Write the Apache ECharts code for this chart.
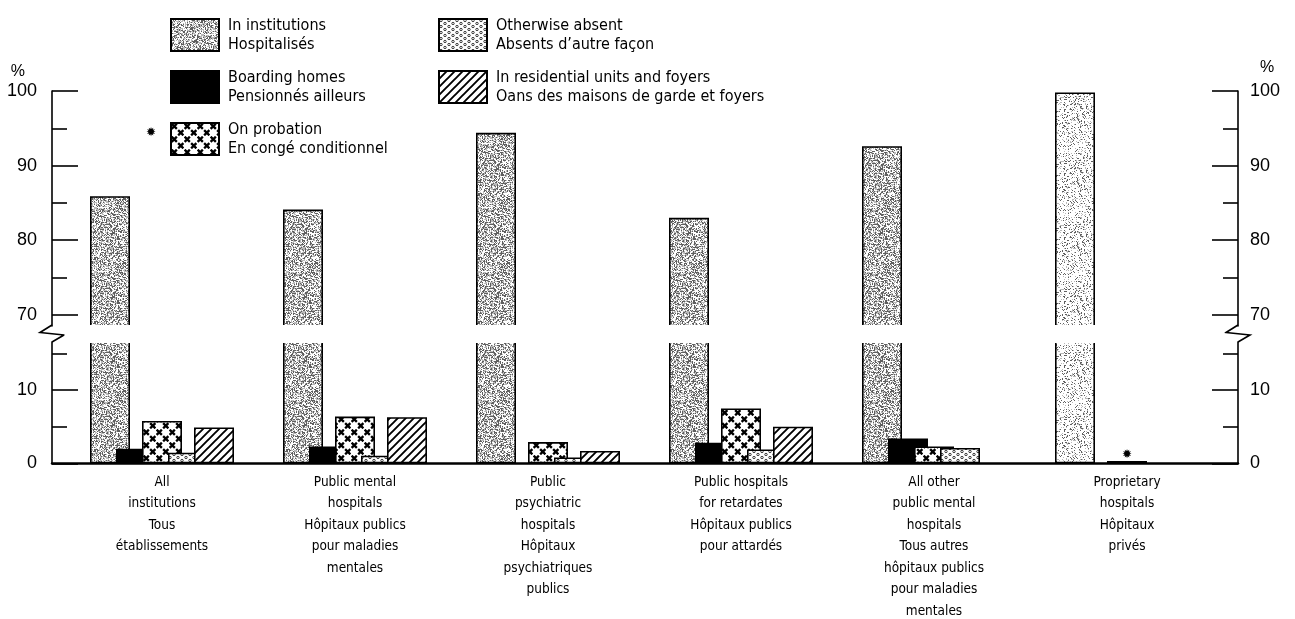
<!DOCTYPE html>
<html><head><meta charset="utf-8">
<script src="https://cdn.jsdelivr.net/npm/echarts@6/dist/echarts.min.js"></script>
<style>html,body{margin:0;padding:0;background:#fff}#c{width:1295px;height:619px}</style>
</head><body><div id="c"></div>
<script>
// ---------- data ----------
const categories = [
  'All\ninstitutions\nTous\nétablissements',
  'Public mental\nhospitals\nHôpitaux publics\npour maladies\nmentales',
  'Public\npsychiatric\nhospitals\nHôpitaux\npsychiatriques\npublics',
  'Public hospitals\nfor retardates\nHôpitaux publics\npour attardés',
  'All other\npublic mental\nhospitals\nTous autres\nhôpitaux publics\npour maladies\nmentales',
  'Proprietary\nhospitals\nHôpitaux\nprivés'
];
const seriesNamesEn = ['In institutions', 'Boarding homes', 'On probation', 'Otherwise absent', 'In residential units and foyers'];
const seriesNamesFr = ['Hospitalisés', 'Pensionnés ailleurs', 'En congé conditionnel', 'Absents d\u2019autre façon', 'Oans des maisons de garde et foyers'];
const inInstitutions   = [85.9, 84.1, 94.4, 83.0, 92.6, 99.8];
const boardingHomes    = [2.0, 2.3, 0, 2.8, 3.4, 0];
const onProbation      = [5.8, 6.4, 2.9, 7.5, 2.3, 0.3];
const otherwiseAbsent  = [1.45, 1.05, 0.8, 1.9, 2.1, 0];
const residentialUnits = [4.9, 6.3, 1.7, 5.0, 0, 0];
const probationNotes   = ['', '', '', '', '', '\u2739'];
const upperTickLabels  = [70, 80, 90, 100];
const upperMinorTicks  = [75, 85, 95];
const lowerTickLabels  = [0, 10];
const lowerMinorTicks  = [5, 15];

// ---------- textures ----------
function hash(x, y, s) {
  let n = (Math.imul(x, 374761393) + Math.imul(y, 668265263) + Math.imul(s, 1442695041)) | 0;
  n = Math.imul(n ^ (n >>> 13), 1274126177);
  n ^= n >>> 16;
  return (n >>> 0) / 4294967296;
}
function stipple(density, seed) {
  const c = document.createElement('canvas'); c.width = c.height = 64;
  const ctx = c.getContext('2d');
  const img = ctx.createImageData(64, 64);
  for (let y = 0; y < 64; y++) for (let x = 0; x < 64; x++) {
    const h = hash(x, y, seed);
    let v = 255;
    if (h < density) v = 95; else if (h < density * 2.0) v = 185;
    const i = (y * 64 + x) * 4;
    img.data[i] = img.data[i + 1] = img.data[i + 2] = v; img.data[i + 3] = 255;
  }
  ctx.putImageData(img, 0, 0);
  return { image: c, repeat: 'repeat' };
}
function crosses() {
  const c = document.createElement('canvas'); c.width = c.height = 13;
  const ctx = c.getContext('2d');
  ctx.fillStyle = '#fff'; ctx.fillRect(0, 0, 13, 13);
  ctx.strokeStyle = '#000'; ctx.lineWidth = 2.3;
  const X = (cx, cy) => { ctx.moveTo(cx - 2.6, cy - 2.6); ctx.lineTo(cx + 2.6, cy + 2.6); ctx.moveTo(cx + 2.6, cy - 2.6); ctx.lineTo(cx - 2.6, cy + 2.6); };
  ctx.beginPath(); X(3.25, 3.25); X(9.75, 9.75); ctx.stroke();
  return { image: c, repeat: 'repeat' };
}
function rings() {
  const c = document.createElement('canvas'); c.width = 8; c.height = 6;
  const ctx = c.getContext('2d');
  ctx.fillStyle = '#fff'; ctx.fillRect(0, 0, 8, 6);
  ctx.strokeStyle = '#222'; ctx.lineWidth = 0.9;
  ctx.beginPath(); ctx.arc(2, 1.5, 1.2, 0, Math.PI * 2); ctx.stroke();
  ctx.beginPath(); ctx.arc(6, 4.5, 1.2, 0, Math.PI * 2); ctx.stroke();
  return { image: c, repeat: 'repeat' };
}
function hatch() {
  const c = document.createElement('canvas'); c.width = c.height = 8;
  const ctx = c.getContext('2d');
  ctx.fillStyle = '#fff'; ctx.fillRect(0, 0, 8, 8);
  ctx.strokeStyle = '#000'; ctx.lineWidth = 1.9;
  ctx.beginPath();
  ctx.moveTo(-2, 10); ctx.lineTo(10, -2);
  ctx.moveTo(-6, 6); ctx.lineTo(6, -6);
  ctx.moveTo(2, 14); ctx.lineTo(14, 2);
  ctx.stroke();
  return { image: c, repeat: 'repeat' };
}
const instFill = stipple(0.30, 1);
const instFillLight = stipple(0.12, 2);
const fills = [instFill, '#000', crosses(), rings(), hatch()];

// ---------- layout constants ----------
const gridLeft = 65.5, gridRight = 71.5;
const upperTop = 91, upperHeight = 235;
const lowerTop = 342, lowerHeight = 121.3;
const leftAxisX = 52, rightAxisX = 1238;
const narrow = "'DejaVu Sans Condensed', 'Liberation Sans Narrow', sans-serif";
const numFont = "'Liberation Sans', Arial, sans-serif";

function yAxisPair(gridIndex, position, offset, min, max, majors, minors, withName) {
  const isLeft = position === 'left';
  const major = {
    type: 'value', gridIndex, position, offset, min, max,
    axisLine: { show: true, lineStyle: { color: '#000', width: 1.6 } },
    axisTick: { show: true, inside: true, length: 26, customValues: majors, lineStyle: { color: '#000', width: 1.6 } },
    axisLabel: { show: true, customValues: majors, margin: isLeft ? 15 : 12, color: '#000', fontSize: 18, fontFamily: numFont },
    splitLine: { show: false }
  };
  if (withName) {
    major.name = '%';
    major.nameLocation = 'end';
    major.nameGap = isLeft ? 11 : 15;
    major.nameTextStyle = isLeft
      ? { color: '#000', fontSize: 16, fontFamily: numFont, align: 'right', padding: [0, 27, 0, 0] }
      : { color: '#000', fontSize: 16, fontFamily: numFont, align: 'left', padding: [0, 0, 0, 22] };
  }
  const minor = {
    type: 'value', gridIndex, position, offset, min, max,
    axisLine: { show: false },
    axisTick: { show: true, inside: true, length: 15, customValues: minors, lineStyle: { color: '#000', width: 1.6 } },
    axisLabel: { show: false },
    splitLine: { show: false }
  };
  return [major, minor];
}

const yAxes = [
  ...yAxisPair(0, 'left', gridLeft - leftAxisX, 68.5, 100, upperTickLabels, upperMinorTicks, true),
  ...yAxisPair(0, 'right', rightAxisX - (1295 - gridRight), 68.5, 100, upperTickLabels, upperMinorTicks, true),
  ...yAxisPair(1, 'left', gridLeft - leftAxisX, 0, 16.6, lowerTickLabels, lowerMinorTicks, false),
  ...yAxisPair(1, 'right', rightAxisX - (1295 - gridRight), 0, 16.6, lowerTickLabels, lowerMinorTicks, false),
  { type: 'value', gridIndex: 2, min: 0, max: 1, show: false }
];

const allValues = [inInstitutions, boardingHomes, onProbation, otherwiseAbsent, residentialUnits];

// zero shares are not drawn (no bar in the reference)
function toBarData(vals, k) {
  return vals.map((v, i) => {
    if (v === 0) return null;
    if (k === 0 && i === vals.length - 1) return { value: v, itemStyle: { color: instFillLight } };
    return v;
  });
}

function barSeries(k, xi, yi, data) {
  return {
    type: 'bar', name: seriesNamesEn[k], xAxisIndex: xi, yAxisIndex: yi,
    data, barWidth: 40, barGap: '-35%', clip: true,
    itemStyle: { color: fills[k], borderColor: '#000', borderWidth: 1.6 },
    emphasis: { disabled: true }, animation: false
  };
}

const series = [];
allValues.forEach((vals, k) => {
  const s = barSeries(k, 1, 4, toBarData(vals, k));
  if (k === 2) {
    s.label = { show: true, position: 'top', distance: 0, formatter: p => probationNotes[p.dataIndex], fontSize: 12, fontFamily: "'DejaVu Sans', sans-serif", color: '#000' };
  }
  series.push(s);
});
allValues.forEach((vals, k) => {
  const data = k === 0 ? toBarData(vals, k) : vals.map(() => null);
  series.push(barSeries(k, 0, 0, data));
});

const legendFormatter = name => name + '\n' + seriesNamesFr[seriesNamesEn.indexOf(name)];
const legendText = { color: '#000', fontSize: 16, lineHeight: 19, fontFamily: narrow, padding: [0, 0, 0, 4] };

function zigzag(x) {
  return {
    type: 'polyline', silent: true,
    shape: { points: [[x, upperTop + upperHeight - 1], [x - 12, upperTop + upperHeight + 6.5], [x + 12, upperTop + upperHeight + 9], [x, lowerTop]] },
    style: { stroke: '#000', lineWidth: 1.6, fill: null }
  };
}

const chart = echarts.init(document.getElementById('c'), null, { renderer: 'canvas' });
chart.setOption({
  animation: false,
  backgroundColor: '#fff',
  grid: [
    { left: gridLeft, right: gridRight, top: upperTop, height: upperHeight, outerBoundsMode: 'none', containLabel: false },
    { left: gridLeft, right: gridRight, top: lowerTop, height: lowerHeight, outerBoundsMode: 'none', containLabel: false },
    { left: leftAxisX, right: 1295 - rightAxisX, top: lowerTop, height: lowerHeight, outerBoundsMode: 'none', containLabel: false }
  ],
  legend: [
    { left: 165, top: 11, orient: 'vertical', icon: 'rect', itemWidth: 48, itemHeight: 32, itemGap: 14,
      data: seriesNamesEn.slice(0, 3), formatter: legendFormatter, textStyle: legendText, selectedMode: false },
    { left: 433, top: 11, orient: 'vertical', icon: 'rect', itemWidth: 48, itemHeight: 32, itemGap: 14,
      data: seriesNamesEn.slice(3), formatter: legendFormatter, textStyle: legendText, selectedMode: false }
  ],
  xAxis: [
    { type: 'category', gridIndex: 0, data: categories, show: false },
    { type: 'category', gridIndex: 1, data: categories,
      axisLine: { show: false }, axisTick: { show: false },
      axisLabel: { interval: 0, margin: 8, color: '#000', fontSize: 13.5, lineHeight: 21.5, fontFamily: narrow, align: 'center' } },
    { type: 'value', gridIndex: 2, min: 0, max: 1,
      axisLine: { show: true, onZero: false, lineStyle: { color: '#000', width: 2.5 } },
      axisTick: { show: false }, axisLabel: { show: false }, splitLine: { show: false } }
  ],
  yAxis: yAxes,
  series,
  graphic: [
    // white band over the break: bars are cut open there, without a border
    { type: 'rect', silent: true, z: 100,
      shape: { x: gridLeft - 1, y: upperTop + upperHeight - 1, width: 1295 - gridLeft - gridRight + 2, height: lowerTop - upperTop - upperHeight + 2 },
      style: { fill: '#fff' } },
    zigzag(leftAxisX),
    zigzag(rightAxisX),
    { type: 'text', left: 146, top: 127, silent: true,
      style: { text: '\u2739', fill: '#000', font: "12px 'DejaVu Sans', sans-serif" } }
  ]
});
</script>
</body></html>
